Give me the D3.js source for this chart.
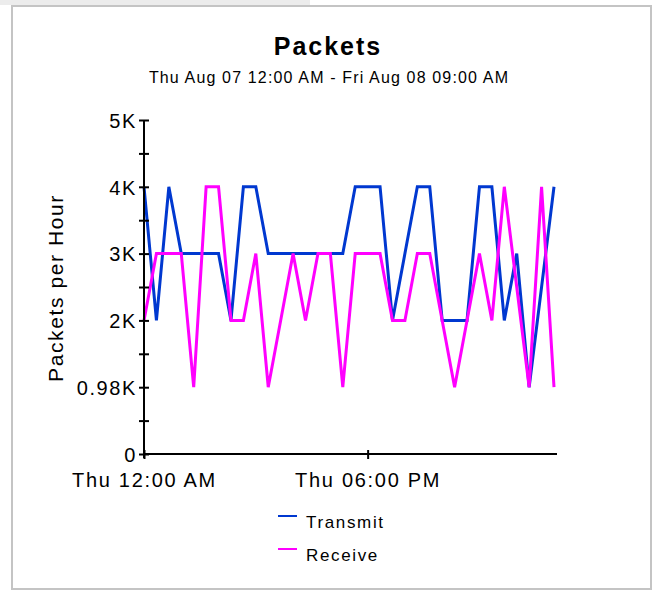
<!DOCTYPE html>
<html>
<head>
<meta charset="utf-8">
<script src="https://cdn.jsdelivr.net/npm/d3@7"></script>
<style>
  body { margin: 0; background: #fff; }
  text { font-family: "Liberation Sans", Arial, sans-serif; fill: #000; }
</style>
</head>
<body>
<svg width="654" height="594"></svg>
<script>
// hours since Thu Aug 07 12:00 AM
const hours    = d3.range(0, 34);
const transmit = [4000, 2000, 4000, 3000, 3000, 3000, 3000, 2000, 4000, 4000,
                  3000, 3000, 3000, 3000, 3000, 3000, 3000, 4000, 4000, 4000,
                  2000, 3000, 4000, 4000, 2000, 2000, 2000, 4000, 4000, 2000,
                  3000, 1000, 2500, 4000];
const receive  = [2000, 3000, 3000, 3000, 1000, 4000, 4000, 2000, 2000, 3000,
                  1000, 2000, 3000, 2000, 3000, 3000, 1000, 3000, 3000, 3000,
                  2000, 2000, 3000, 3000, 2000, 1000, 2000, 3000, 2000, 4000,
                  2500, 1000, 4000, 1000];

const y_ticks       = [0, 1000, 2000, 3000, 4000, 5000];
const y_tick_labels = ["0", "0.98K", "2K", "3K", "4K", "5K"];
const y_minor       = [500, 1500, 2500, 3500, 4500];
const x_ticks       = [new Date(2008, 7, 7, 0), new Date(2008, 7, 7, 18)];
const x_tick_labels = ["Thu 12:00 AM", "Thu 06:00 PM"];

const series = [
  {name: "Transmit", color: "#0038d0", values: transmit},
  {name: "Receive",  color: "#ff00ff", values: receive}
];

const start = new Date(2008, 7, 7, 0);
const end   = new Date(2008, 7, 8, 9);

const svg = d3.select("svg");

// frame round the chart
svg.append("rect").attr("x", 0).attr("y", 0).attr("width", 310).attr("height", 5)
  .style("fill", "#ececec");
svg.append("rect").attr("x", 12).attr("y", 6).attr("width", 639).attr("height", 583)
  .style("fill", "none").style("stroke", "#c4c4c4").style("stroke-width", 2);

const x = d3.scaleTime().domain([start, end]).range([144, 554]);
const y = d3.scaleLinear().domain([0, 5000]).range([454, 120]);

// titles
svg.append("text").attr("x", 328).attr("y", 55)
  .attr("text-anchor", "middle")
  .style("font-size", "25px").style("font-weight", "bold").style("letter-spacing", "2px")
  .text("Packets");
svg.append("text").attr("x", 329).attr("y", 83)
  .attr("text-anchor", "middle")
  .style("font-size", "16px").style("letter-spacing", "1.15px")
  .text("Thu Aug 07 12:00 AM - Fri Aug 08 09:00 AM");

svg.append("text")
  .attr("transform", "translate(63,288) rotate(-90)")
  .attr("text-anchor", "middle")
  .style("font-size", "21px").style("letter-spacing", "1.6px")
  .text("Packets per Hour");

// lines
const line = d3.line()
  .x((d, i) => x(d3.timeHour.offset(start, hours[i])))
  .y(d => y(d));

svg.append("g").selectAll("path.series")
  .data(series)
  .enter()
  .append("path")
  .attr("class", "series")
  .attr("d", d => line(d.values))
  .style("fill", "none")
  .style("stroke", d => d.color)
  .style("stroke-width", 3)
  .style("stroke-linejoin", "miter");

// y axis
const yAxis = d3.axisLeft(y)
  .tickValues(y_ticks.concat(y_minor))
  .tickSizeInner(0).tickSizeOuter(0)
  .tickFormat(d => {
    const k = y_ticks.indexOf(d);
    return k < 0 ? "" : y_tick_labels[k];
  });
const gy = svg.append("g").attr("transform", "translate(144,0)").call(yAxis);
gy.select(".domain").attr("d", "M0,120V458").style("stroke", "#000").style("stroke-width", 2);
gy.selectAll(".tick line").attr("x1", -5).attr("x2", 5)
  .style("stroke", "#000").style("stroke-width", 2);
gy.selectAll(".tick text")
  .attr("x", -7).attr("dy", "0.36em")
  .style("font-family", "Liberation Sans, Arial, sans-serif")
  .style("font-size", "20px").style("letter-spacing", "1.6px")
  .style("fill", "#000");

// x axis
const xAxis = d3.axisBottom(x)
  .tickValues(x_ticks)
  .tickSizeInner(0).tickSizeOuter(0)
  .tickFormat((d, i) => x_tick_labels[i]);
const gx = svg.append("g").attr("transform", "translate(0,454)").call(xAxis);
gx.select(".domain").attr("d", "M144,0H557").style("stroke", "#000").style("stroke-width", 2);
gx.selectAll(".tick line").attr("y1", -4).attr("y2", 5)
  .style("stroke", "#000").style("stroke-width", 2);
gx.selectAll(".tick text")
  .attr("y", 33).attr("dy", 0)
  .style("font-family", "Liberation Sans, Arial, sans-serif")
  .style("font-size", "20px").style("letter-spacing", "1.7px")
  .style("fill", "#000");

// legend
const legend = svg.append("g").selectAll("g.legend")
  .data(series)
  .enter()
  .append("g")
  .attr("class", "legend")
  .attr("transform", (d, i) => "translate(278," + (516 + i * 33) + ")");
legend.append("line")
  .attr("x1", 0).attr("x2", 19)
  .style("stroke", d => d.color).style("stroke-width", 2);
legend.append("text")
  .attr("x", 28).attr("y", 12)
  .style("font-size", "17px").style("letter-spacing", "1.65px")
  .text(d => d.name);
</script>
</body>
</html>
